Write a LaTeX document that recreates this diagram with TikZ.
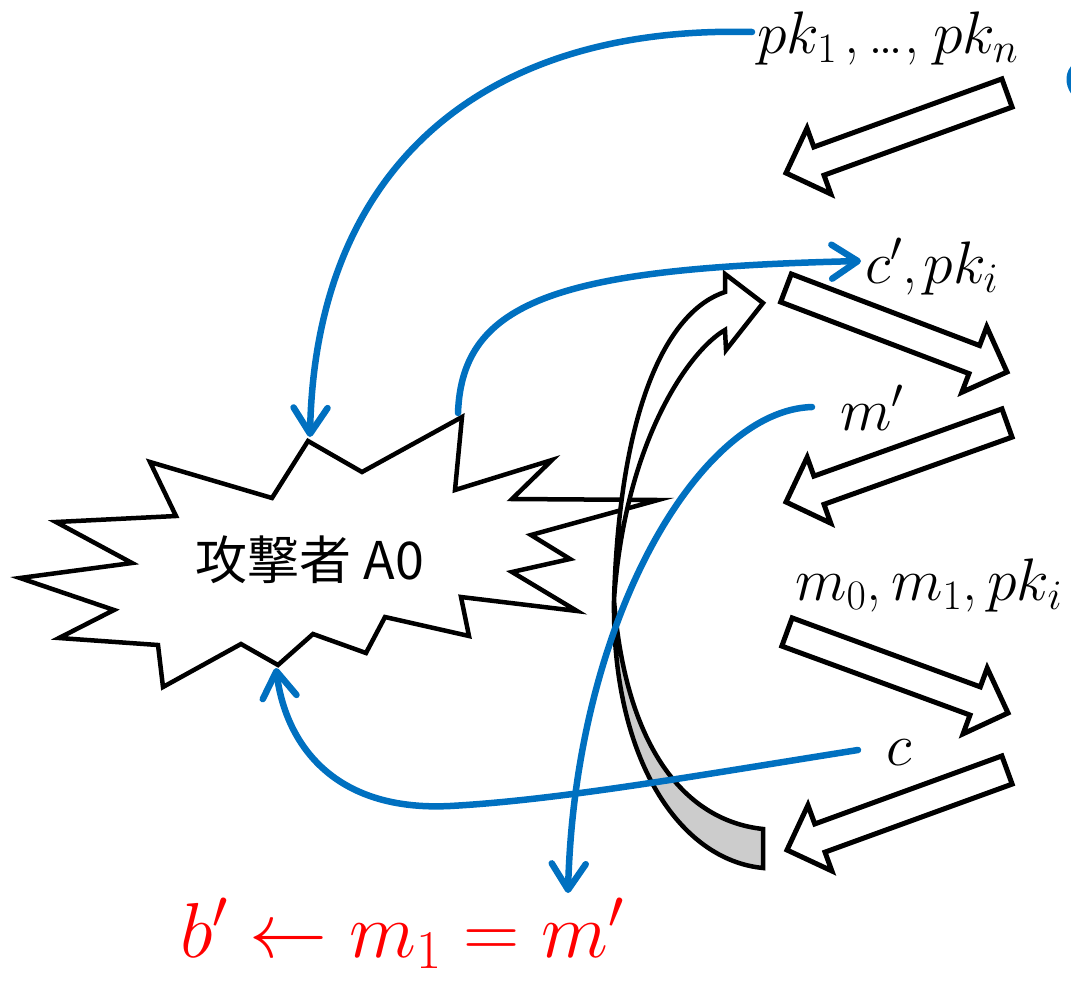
\RequirePackage{fix-cm}
\documentclass[tikz,border=0pt]{standalone}
\usepackage{fontspec}
\newfontfamily\jpfont{Noto Sans CJK JP}
\usetikzlibrary{arrows.meta,calc}
\definecolor{atBlue}{HTML}{0070C0}
\definecolor{atRed}{HTML}{FF0000}
\definecolor{atGray}{HTML}{CCCCCC}

\begin{document}
\begin{tikzpicture}[x=1pt, y=-1pt,
  blueline/.style={draw=atBlue, line width=6.5pt, line cap=round},
  bluearr/.style={blueline, -{Straight Barb[length=26pt, width=34pt, round]}},
  hollow/.style={draw=black, fill=white, line width=5pt, line join=miter},
  burst/.style={draw=black, fill=white, line width=4.5pt, line join=miter, miter limit=12},
  twist/.style={draw=black, line width=4.5pt, line join=miter},
  lab/.style={font=\fontsize{60}{70}\selectfont, inner sep=0pt, anchor=base west},
]
\useasboundingbox (0,0) rectangle (1071,980);

% attacker burst
\draw[burst] (308,441) -- (362,472) -- (462,417) -- (455,490) -- (552,460) -- (512,499)
  -- (658,500) -- (531,535) -- (570,559) -- (512,572) -- (577,611) -- (461,597)
  -- (469,636) -- (385,617) -- (366,653) -- (313,634) -- (278,665) -- (241,644)
  -- (163,687) -- (158,645) -- (59,638) -- (114,610) -- (20,578) -- (132,563)
  -- (56,522) -- (176,516) -- (150,462) -- (272,498) -- cycle;
\node[font=\jpfont\fontsize{52}{62}\selectfont] (attacker) at (310,560) {攻撃者 A0};

% twisted curved arrow
\coordinate (twx) at (614,600);
\draw[twist, fill=atGray] (twx) .. controls (612,760) and (680,860) .. (763,868)
  -- (763,829) .. controls (680,820) and (625,740) .. (twx) -- cycle;
\draw[twist, fill=white] (twx) .. controls (620,400) and (670,310) .. (725,292)
  -- (725,274) -- (763,303) -- (726,350) -- (725,330)
  .. controls (690,350) and (625,440) .. (twx) -- cycle;

% block arrows: tail / tip
\foreach \tx/\ty/\hx/\hy in {1007/93/786/173, 786/288/1007/372, 1007/423/786/502,
                             787/632/1008/713, 1007/770/787/850} {
  \coordinate (bt) at (\tx,\ty);
  \coordinate (bh) at (\hx,\hy);
  \coordinate (bb) at ($(bh)!35pt!(bt)$);
  \draw[hollow] ($(bt)!15pt!90:(bh)$) -- ($(bb)!15pt!-90:(bt)$) -- ($(bb)!35pt!-90:(bt)$)
    -- (bh) -- ($(bb)!35pt!90:(bt)$) -- ($(bb)!15pt!90:(bt)$) -- ($(bt)!15pt!-90:(bh)$) -- cycle;
}

% labels
\node[lab] (pkall) at (757,53) {$pk_1$\hspace{7pt},\hspace{10pt}\ldots,\hspace{14pt}$pk_n$};
\node[lab] (cpk) at (865,283) {$c'$,\hspace{6pt}$pk_i$};
\node[lab] (mpr) at (840,430) {$m'$};
\node[lab] (mmpk) at (795,600) {$m_0$,\hspace{10pt}$m_1$,\hspace{10pt}$pk_i$};
\node[lab] (cc) at (886,765) {$c$};
\node[lab, text=atRed, font=\fontsize{78}{90}\selectfont] (result) at (180,957) {$b'\leftarrow m_1=m'$};

% blue flows
\coordinate (pkfrom) at (752,32);
\coordinate (burstTop) at (310,437);
\coordinate (burstUp) at (458,413);
\coordinate (cpkto) at (861,261);
\coordinate (mprfrom) at (812,407);
\coordinate (resultTop) at (568,893);
\coordinate (ccfrom) at (858,750);
\coordinate (burstLow) at (276,668);
\draw[bluearr] (pkfrom) .. controls (480,25) and (315,170) .. (burstTop);
\draw[bluearr] (burstUp) .. controls (462,300) and (560,268) .. (cpkto);
\draw[bluearr] (mprfrom) .. controls (700,410) and (575,620) .. (resultTop);
\draw[bluearr] (ccfrom) .. controls (700,775) and (560,800) .. (450,806)
  .. controls (330,812) and (285,740) .. (burstLow);
\draw[blueline] (1076,66) .. controls (1068,72) and (1068,84) .. (1074,92);

\end{tikzpicture}
\end{document}
